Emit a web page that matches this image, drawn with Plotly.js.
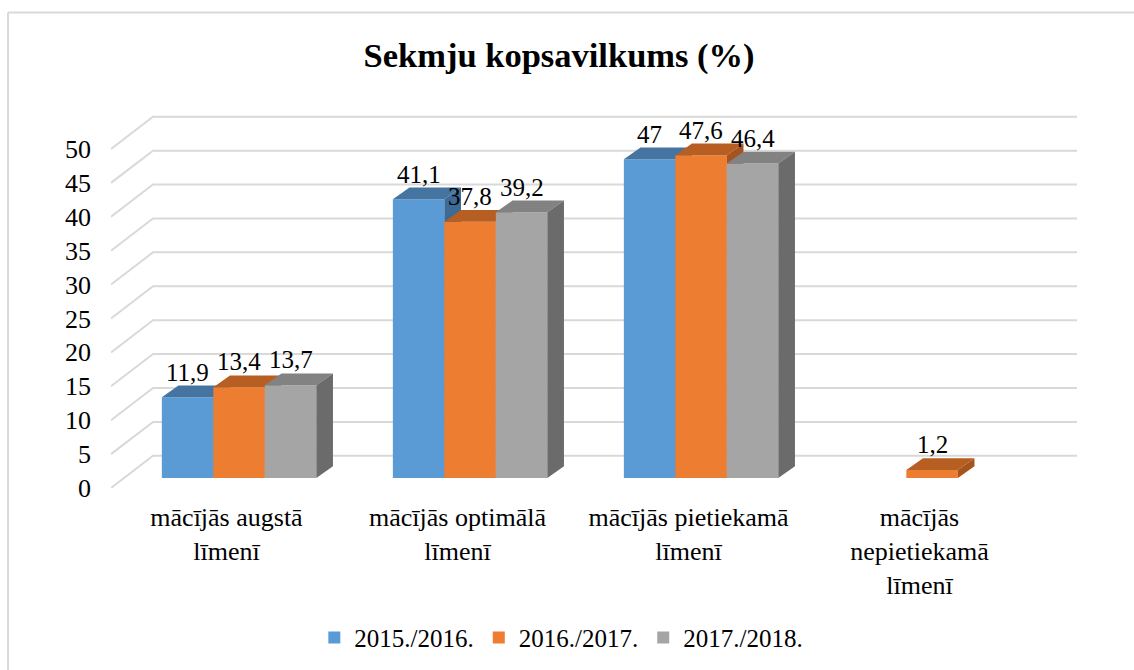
<!DOCTYPE html>
<html><head><meta charset="utf-8">
<script src="https://cdn.plot.ly/plotly-3.0.1.min.js"></script>
<style>html,body{margin:0;padding:0;background:#fff;overflow:hidden}#chart{width:1134px;height:670px}</style>
</head><body><div id="chart"></div>
<script>
// ---- data ----
const categories = ['mācījās augstā<br>līmenī', 'mācījās optimālā<br>līmenī', 'mācījās pietiekamā<br>līmenī', 'mācījās<br>nepietiekamā<br>līmenī'];
const seriesNames = ['2015./2016.', '2016./2017.', '2017./2018.'];
const values2015 = [11.9, 41.1, 47, null];
const values2016 = [13.4, 37.8, 47.6, 1.2];
const values2017 = [13.7, 39.2, 46.4, null];
const yTicks = [0, 5, 10, 15, 20, 25, 30, 35, 40, 45, 50];

// ---- styles / geometry of the pseudo-3D view ----
const FONT = 'Liberation Serif';
const frontColors = ['#5b9bd5', '#ed7d31', '#a5a5a5'];
const topColors = ['#44749f', '#b75e22', '#828282'];
const sideColors = ['#3d6a96', '#a6531d', '#6b6b6b'];
const W = 0.2229, FX = 0.0545, FY = 1.47, BDX = 0.072, BDY = 1.73, DX = 0.1818, DY = 4.75;
const XMIN = -0.5, XMAX = 3.6818, YMAX = 55.01;
const seriesVals = [values2015, values2016, values2017];

const traces = [];
// legend entries
seriesVals.forEach((vals, k) => {
  traces.push({type: 'bar', x: [null], y: [null], name: seriesNames[k], marker: {color: frontColors[k]}, hoverinfo: 'skip'});
});
// wall gridlines
const gx = [], gy = [];
yTicks.forEach(v => { gx.push(XMIN, XMIN + DX, XMAX, null); gy.push(v, v + DY, v + DY, null); });
traces.push({type: 'scatter', mode: 'lines', x: gx, y: gy, line: {color: '#d9d9d9', width: 2}, hoverinfo: 'skip', showlegend: false});

const annotations = [];
seriesVals.forEach((vals, k) => {
  const fx = [], fy = [], tx = [], ty = [], sx = [], sy = [];
  vals.forEach((v, i) => {
    if (v === null) return;
    const xl = i + FX + (k - 1) * W - W / 2, xr = xl + W, y0 = FY, y1 = FY + v;
    fx.push(xl, xr, xr, xl, xl, null); fy.push(y0, y0, y1, y1, y0, null);
    tx.push(xl, xr, xr + BDX, xl + BDX, xl, null); ty.push(y1, y1, y1 + BDY, y1 + BDY, y1, null);
    sx.push(xr, xr + BDX, xr + BDX, xr, xr, null); sy.push(y0, y0 + BDY, y1 + BDY, y1, y0, null);
    annotations.push({x: (xl + xr) / 2, y: y1 + BDY, xref: 'x', yref: 'y', yanchor: 'bottom', xanchor: 'center',
      text: String(v).replace('.', ','), showarrow: false, font: {family: FONT, size: 25, color: '#000'}, yshift: -2});
  });
  const common = {type: 'scatter', mode: 'none', fill: 'toself', hoverinfo: 'skip', showlegend: false};
  traces.push(Object.assign({}, common, {x: fx, y: fy, fillcolor: frontColors[k]}));
  traces.push(Object.assign({}, common, {x: tx, y: ty, fillcolor: topColors[k]}));
  traces.push(Object.assign({}, common, {x: sx, y: sy, fillcolor: sideColors[k]}));
});

const layout = {
  width: 1134, height: 670,
  margin: {l: 111, r: 57, t: 115, b: 182},
  paper_bgcolor: '#ffffff', plot_bgcolor: 'rgba(0,0,0,0)',
  font: {family: FONT, color: '#000'},
  title: {text: 'Sekmju kopsavilkums (%)', font: {family: FONT, size: 34.5, weight: 'bold', color: '#000'},
    x: 0.493, xanchor: 'center', y: 0.918, yanchor: 'middle'},
  xaxis: {range: [XMIN, XMAX], tickmode: 'array', tickvals: [0, 1, 2, 3], ticktext: categories,
    showgrid: false, zeroline: false, showline: false, ticks: '', tickfont: {family: FONT, size: 26, color: '#000'}, ticklabelstandoff: 11, fixedrange: true},
  yaxis: {range: [0, YMAX], tickmode: 'array', tickvals: yTicks, ticktext: yTicks.map(String),
    showgrid: false, zeroline: false, showline: false, ticks: '', tickfont: {family: FONT, size: 26, color: '#000'}, ticklabelstandoff: 19, fixedrange: true},
  barmode: 'overlay',
  showlegend: true,
  legend: {orientation: 'h', xref: 'container', yref: 'container', x: 0.495, xanchor: 'center', y: 0.048, yanchor: 'middle',
    font: {family: FONT, size: 25, color: '#000'}, traceorder: 'normal'},
  annotations: annotations,
  shapes: [
    {type: 'line', xref: 'paper', yref: 'paper', x0: -0.1066, x1: -0.1066, y0: -1, y1: 1.2748, line: {color: '#d9d9d9', width: 2}, layer: 'below'},
    {type: 'line', xref: 'paper', yref: 'paper', x0: -0.1066, x1: 1.3, y0: 1.2748, y1: 1.2748, line: {color: '#d9d9d9', width: 2}, layer: 'below'}
  ]
};
Plotly.newPlot('chart', traces, layout, {displayModeBar: false, staticPlot: true});
</script></body></html>
